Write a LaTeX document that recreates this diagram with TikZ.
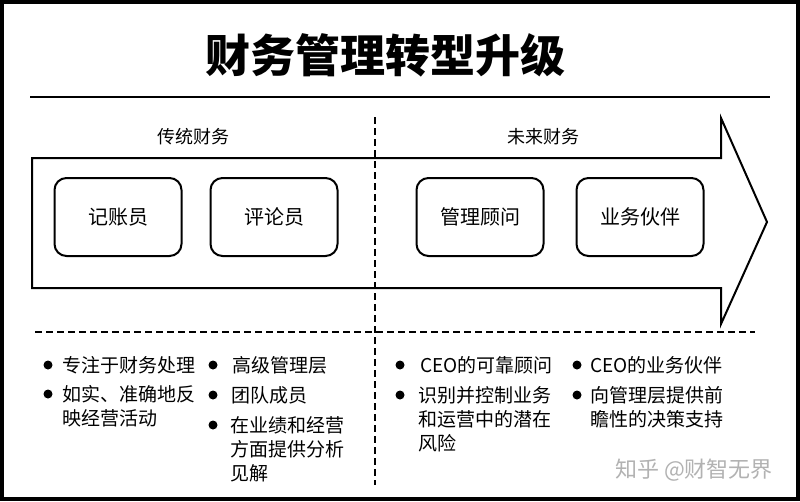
\documentclass[tikz,border=0pt]{standalone}
\usepackage{fontspec}
\setmainfont{Noto Sans CJK SC}
\newfontfamily\titlefont{Noto Sans CJK SC Black}
\usetikzlibrary{positioning}

\begin{document}
\begin{tikzpicture}[x=1pt, y=-1pt,
    role/.style={draw, line width=2pt, rounded corners=12pt, minimum width=127pt, minimum height=78pt, font=\fontsize{20}{24}\selectfont},
    phase/.style={font=\fontsize{18}{20}\selectfont},
    item/.style={anchor=north west, inner sep=0pt, align=left, font=\fontsize{19}{24}\selectfont},
    dot/.style={circle, fill, inner sep=0pt, minimum size=9pt},
    split/.style={line width=1.3pt, dash pattern=on 7pt off 4pt}]

    \useasboundingbox (0,0) rectangle (800,501);
    \fill[white] (0,0) rectangle (800,501);
    \draw[line width=4pt] (2,2) rectangle (798,499);

    % title
    \node [font=\titlefont\fontsize{45}{50}\selectfont] (title) at (385,55) {财务管理转型升级};
    \draw [line width=2pt] (30,97) -- (770,97);

    % big arrow
    \draw [line width=2pt] (32,158) -- (721,158) -- (721,118) -- (767,222) -- (721,324) -- (721,288) -- (32,288) -- cycle;

    \node [phase] (old) at (193,137) {传统财务};
    \node [phase] (new) at (543,137) {未来财务};

    \node [role] (clerk) at (118,217) {记账员};
    \node [role, right=27pt of clerk] (critic) {评论员};
    \node [role, right=77pt of critic] (advisor) {管理顾问};
    \node [role, right=31pt of advisor] (partner) {业务伙伴};

    % dashed splits
    \draw [split] (375,117) -- (375,485);
    \draw [split] (35,332) -- (755,332);

    % lists
    \node [dot] (a1dot) at (48,365) {};
    \node [item] (a1) at (62,356) {专注于财务处理};
    \node [dot] (a2dot) at (48,394) {};
    \node [item] (a2) at (62,385) {如实、准确地反\\映经营活动};

    \node [dot] (b1dot) at (213,365) {};
    \node [item] (b1) at (232,356) {高级管理层};
    \node [dot] (b2dot) at (213,395) {};
    \node [item] (b2) at (231,386) {团队成员};
    \node [dot] (b3dot) at (213,425) {};
    \node [item] (b3) at (230,416) {在业绩和经营\\方面提供分析\\见解};

    \node [dot] (c1dot) at (400,365) {};
    \node [item] (c1) at (420,356) {CEO的可靠顾问};
    \node [dot] (c2dot) at (400,395) {};
    \node [item] (c2) at (418,386) {识别并控制业务\\和运营中的潜在\\风险};

    \node [dot] (d1dot) at (577,365) {};
    \node [item] (d1) at (590,356) {CEO的业务伙伴};
    \node [dot] (d2dot) at (577,395) {};
    \node [item] (d2) at (590,386) {向管理层提供前\\瞻性的决策支持};

    \node [text=black!30, font=\fontsize{22}{24}\selectfont] (mark) at (694,470) {知乎 @财智无界};
\end{tikzpicture}
\end{document}
